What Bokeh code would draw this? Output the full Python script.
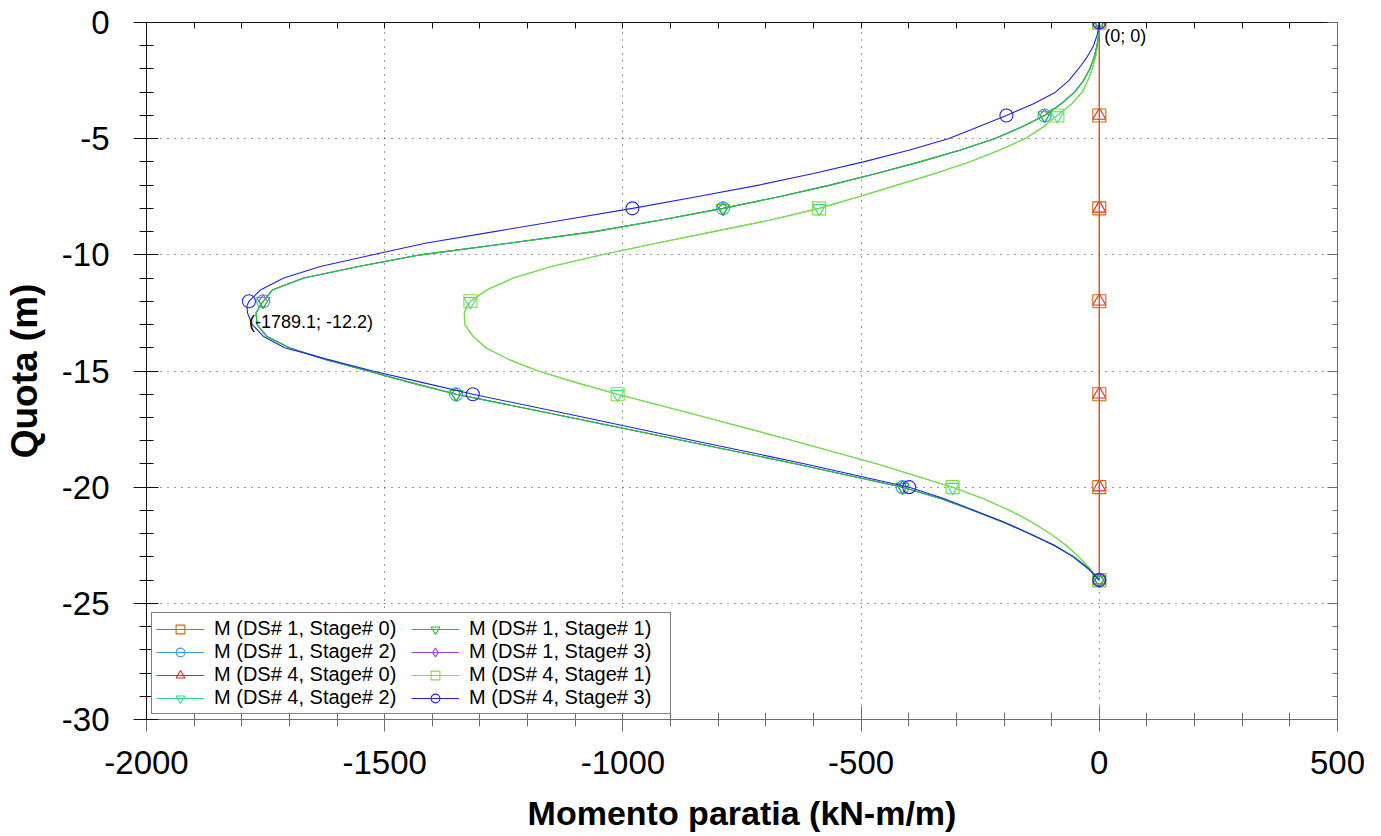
import numpy as np
from bokeh.plotting import figure
from bokeh.models import (Range1d, LinearAxis, SingleIntervalTicker, Legend, LegendItem,
                          Grid, PrintfTickFormatter)
from bokeh.core.properties import value
from bokeh.embed import file_html
from bokeh.resources import INLINE

# Wall depth (m) and bending moment (kN-m/m) for each design section / stage
depth = [0, -0.5, -1, -1.5, -2, -2.5, -3, -3.5, -4, -4.5, -5, -5.5, -6, -6.5, -7, -7.5,
         -8, -8.5, -9, -9.5, -10, -10.5, -11, -11.5, -12, -12.2, -12.5, -13, -13.5, -14,
         -14.5, -15, -15.5, -16, -17, -18, -19, -20, -20.5, -21, -21.5, -22, -22.5, -23,
         -23.5, -24]

m_zero = [0] * len(depth)

m_ds1_late = [0, -1, -5, -11, -20, -33, -52, -80, -115, -163, -220, -293, -377, -468, -565,
              -672, -790, -920, -1060, -1240, -1425, -1555, -1670, -1735, -1755, -1762,
              -1770, -1768, -1748, -1700, -1625, -1535, -1445, -1350, -1110, -872, -636,
              -413, -332, -265, -203, -146, -95, -53, -22, 0]

m_ds4_early = [0, -1, -4, -8, -15, -24, -36, -58, -88, -118, -156, -210, -273, -345, -425,
               -505, -588, -690, -810, -930, -1044, -1150, -1230, -1285, -1320, -1327,
               -1333, -1332, -1315, -1288, -1240, -1178, -1098, -1011, -825, -642, -466,
               -308, -243, -188, -142, -103, -70, -43, -20, 0]

m_ds4_stage3 = [0, -4, -12, -26, -44, -64, -92, -138, -195, -255, -317, -400, -495, -600,
                -715, -845, -980, -1125, -1270, -1415, -1525, -1635, -1712, -1760, -1785,
                -1789.1, -1788, -1778, -1755, -1710, -1620, -1525, -1420, -1315, -1080,
                -850, -617, -399, -325, -262, -200, -146, -95, -55, -24, 0]

series = [
    ("M (DS# 1, Stage# 0)", m_zero, "#CC6A00", "square"),
    ("M (DS# 1, Stage# 1)", m_ds1_late, "#22C822", "inverted_triangle"),
    ("M (DS# 1, Stage# 2)", m_ds1_late, "#3C9BE6", "circle"),
    ("M (DS# 1, Stage# 3)", m_ds1_late, "#9A42E0", "diamond"),
    ("M (DS# 4, Stage# 0)", m_zero, "#E02828", "triangle"),
    ("M (DS# 4, Stage# 1)", m_ds4_early, "#84DC3C", "square"),
    ("M (DS# 4, Stage# 2)", m_ds4_early, "#30DC8C", "inverted_triangle"),
    ("M (DS# 4, Stage# 3)", m_ds4_stage3, "#2222E0", "circle"),
]

x_ticks_major = 500
y_ticks_major = 5

FONT = "Liberation Sans"

p = figure(width=1381, height=836, output_backend="svg", toolbar_location=None,
           x_range=Range1d(-2000, 500), y_range=Range1d(-30, 0),
           min_border_left=145, min_border_right=44, min_border_top=22,
           min_border_bottom=117, x_axis_location=None, y_axis_location=None)
p.outline_line_color = None
p.background_fill_color = "white"
p.border_fill_color = "white"


def style_axis(ax, tick_in, tick_out, mtick_in, mtick_out, color, labels=True):
    ax.axis_line_color = color
    ax.major_tick_line_color = color
    ax.minor_tick_line_color = color
    ax.major_tick_in = tick_in
    ax.major_tick_out = tick_out
    ax.minor_tick_in = mtick_in
    ax.minor_tick_out = mtick_out
    if labels:
        ax.formatter = PrintfTickFormatter(format="%d")
        ax.major_label_text_font = FONT
        ax.major_label_text_font_size = "33px"
        ax.major_label_text_color = "black"
        ax.axis_label_text_font = FONT
        ax.axis_label_text_font_style = "bold"
        ax.axis_label_text_color = "black"
    else:
        ax.major_label_text_font_size = "0px"
        ax.major_label_standoff = 0


xb = LinearAxis(ticker=SingleIntervalTicker(interval=x_ticks_major, num_minor_ticks=5))
style_axis(xb, 13, 12, 7, 7, "#6E6E6E")
xb.major_label_standoff = 19
xb.axis_label = "Momento paratia (kN-m/m)"
xb.axis_label_text_font_size = "34px"
xb.axis_label_standoff = 17
p.add_layout(xb, "below")

yl = LinearAxis(ticker=SingleIntervalTicker(interval=y_ticks_major, num_minor_ticks=5))
style_axis(yl, 12, 13, 7, 7, "#111111")
yl.major_label_standoff = 24
yl.axis_label = "Quota (m)"
yl.axis_label_text_font_size = "37px"
yl.axis_label_standoff = 14
p.add_layout(yl, "left")

xt = LinearAxis(ticker=SingleIntervalTicker(interval=100))
style_axis(xt, 6, 0, 0, 0, "#111111", labels=False)
p.add_layout(xt, "above")

yr = LinearAxis(ticker=SingleIntervalTicker(interval=y_ticks_major, num_minor_ticks=5))
style_axis(yr, 10, 0, 5, 0, "#6E6E6E", labels=False)
p.add_layout(yr, "right")

p.xgrid.grid_line_color = None
p.ygrid.grid_line_color = None
p.add_layout(Grid(dimension=0, ticker=xb.ticker, grid_line_color="#333333",
                  grid_line_dash="1 6", grid_line_width=1))
p.add_layout(Grid(dimension=1, ticker=yl.ticker, grid_line_color="#333333",
                  grid_line_dash="1 6", grid_line_width=1))

d = np.array(depth, dtype=float)
marker_mask = np.isclose(d % 4, 0)

renderers = {}
draw_order = [4, 0, 6, 5, 3, 2, 1, 7]
for i in draw_order:
    name, vals, color, marker = series[i]
    v = np.array(vals, dtype=float)
    ln = p.line(v, d, line_color=color, line_width=1.1)
    sc = p.scatter(v[marker_mask], d[marker_mask], marker=marker, size=13,
                   line_color=color, fill_color=None, line_width=1.1)
    renderers[i] = [ln, sc]

# legend fills column by column: list the left column first, then the right one
legend_order = [0, 2, 4, 6, 1, 3, 5, 7]
items = [LegendItem(label=series[i][0], renderers=renderers[i]) for i in legend_order]
legend = Legend(items=items, location="bottom_left", ncols=2,
                label_text_font=FONT, label_text_font_size="20px", label_text_color="black",
                glyph_width=48, glyph_height=22, label_standoff=10, spacing=0,
                padding=4, margin=5, border_line_color="black", border_line_width=1,
                background_fill_alpha=1, label_height=22, label_width=197)
p.add_layout(legend)

# extreme values of the envelope
vmax_i = int(np.argmax(m_ds4_stage3))
vmin_i = int(np.argmin(m_ds4_stage3))
labels_x = [m_ds4_stage3[vmax_i], m_ds4_stage3[vmin_i]]
labels_y = [depth[vmax_i], depth[vmin_i]]
labels_t = ["(%g; %g)" % (labels_x[0], labels_y[0]),
            "(%.1f; %.1f)" % (labels_x[1], labels_y[1])]
p.text(x=labels_x, y=labels_y, text=labels_t, text_font=value(FONT), text_font_size="18px",
       text_color="black", text_baseline="middle", text_align="left",
       x_offset=[5, 2], y_offset=[13, 16])

open("out.html", "w").write(file_html(p, INLINE))
